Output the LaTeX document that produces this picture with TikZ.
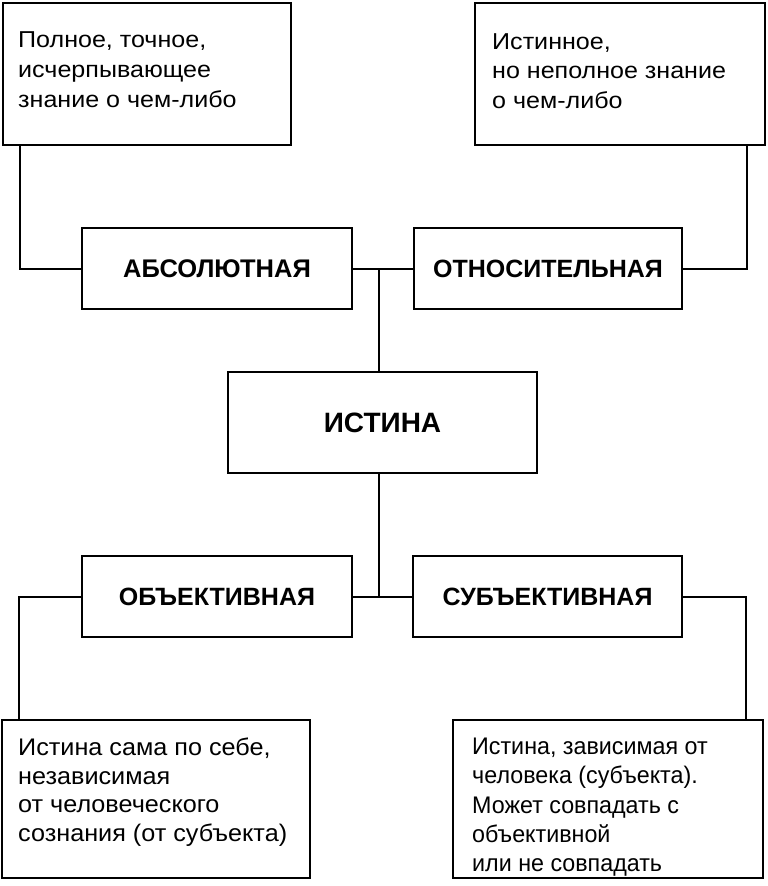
\documentclass[tikz,border=0pt]{standalone}
\usepackage{fontspec}
\setmainfont{Liberation Sans}
\newfontfamily\topfont[FakeStretch=1.09]{Liberation Sans}
\newfontfamily\blfont[FakeStretch=1.05]{Liberation Sans}
\newfontfamily\brfont[FakeStretch=0.97]{Liberation Sans}
\begin{document}
\begin{tikzpicture}[x=1pt,y=-1pt]
\tikzset{
  box/.style={draw, line width=2pt, inner sep=0pt},
  lbl/.style={draw, line width=2pt, inner sep=0pt, align=center},
  txt/.style={inner sep=0pt, anchor=north west, align=left},
  conn/.style={line width=2pt},
}
\useasboundingbox (0,0) rectangle (768,886);
% top boxes
\node[box, minimum width=288, minimum height=142] (tl) at (147,74) {};
\node[txt, font=\topfont\fontsize{23}{30}\selectfont] (tlt) at (18,31)
  {Полное, точное,\\исчерпывающее\\знание о чем-либо};
\node[box, minimum width=290, minimum height=142] (tr) at (620,74) {};
\node[txt, font=\topfont\fontsize{23}{29.5}\selectfont] (trt) at (492,33)
  {Истинное,\\но неполное знание\\о чем-либо};
% labels
\node[lbl, font=\bfseries\fontsize{25.5}{30}\selectfont, minimum width=270, minimum height=81] (abs) at (217,268.5) {АБСОЛЮТНАЯ};
\node[lbl, font=\bfseries\fontsize{25}{30}\selectfont, minimum width=268, minimum height=81] (rel) at (548,268.5) {ОТНОСИТЕЛЬНАЯ};
\node[lbl, font=\bfseries\fontsize{28}{32}\selectfont, minimum width=309, minimum height=101] (ist) at (382.5,422.5) {ИСТИНА};
\node[lbl, font=\bfseries\fontsize{25}{30}\selectfont, minimum width=270, minimum height=81] (obj) at (217,596.5) {ОБЪЕКТИВНАЯ};
\node[lbl, font=\bfseries\fontsize{25}{30}\selectfont, minimum width=269, minimum height=81] (subj) at (547.5,596.5) {СУБЪЕКТИВНАЯ};
% bottom boxes
\node[box, minimum width=308, minimum height=158] (bl) at (156,799) {};
\node[txt, font=\blfont\fontsize{24}{28.5}\selectfont] (blt) at (18,738)
  {Истина сама по себе,\\независимая\\от человеческого\\сознания (от субъекта)};
\node[box, minimum width=310, minimum height=158] (br) at (608,799) {};
\node[txt, font=\brfont\fontsize{24}{29.2}\selectfont] (brt) at (472,738)
  {Истина, зависимая от\\человека (субъекта).\\Может совпадать с\\объективной\\или не совпадать};
% junctions
\coordinate (jt) at (378.5,268.5);
\coordinate (jb) at (378.5,596.5);
% connectors
\draw[conn] ([xshift=18pt]tl.south west) |- (abs.west);
\draw[conn] ([xshift=-19pt]tr.south east) |- (rel.east);
\draw[conn] (abs.east) -- (rel.west);
\draw[conn] (jt) -- (ist.north -| jt);
\draw[conn] (ist.south -| jb) -- (jb);
\draw[conn] (obj.east) -- (subj.west);
\draw[conn] (obj.west) -| ([xshift=18pt]bl.north west);
\draw[conn] (subj.east) -| ([xshift=-18pt]br.north east);
\end{tikzpicture}
\end{document}
